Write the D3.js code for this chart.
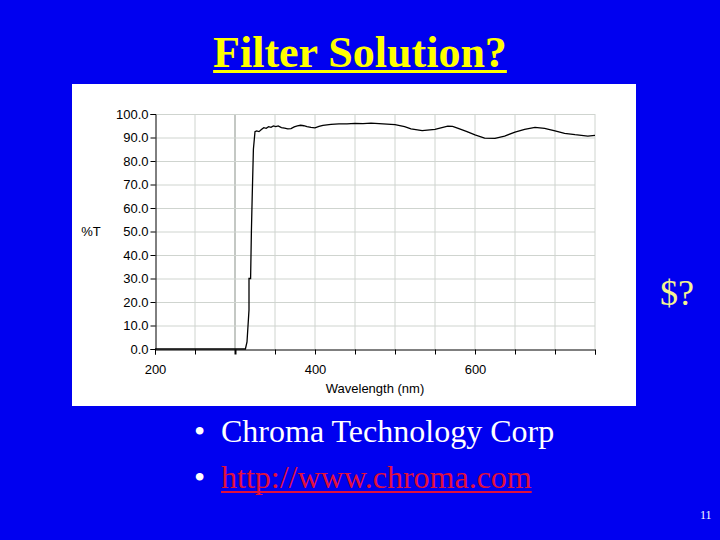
<!DOCTYPE html>
<html>
<head>
<meta charset="utf-8">
<title>Filter Solution?</title>
<script src="https://d3js.org/d3.v7.min.js"></script>
<style>
  body { margin: 0; background: #0000f0; }
  svg { display: block; }
</style>
</head>
<body>
<div id="chart"></div>
<script>
// transmission curve
var wavelength = [200, 313, 315, 317.5, 317.5, 319.5, 320.5, 321.5, 323, 325, 327, 330, 333, 336, 339, 342, 345, 348,
    351, 354, 358, 362, 366, 370, 374, 378, 382, 386, 390, 395, 400, 405, 410, 420, 430, 440, 450, 460, 470, 480, 490,
    500, 506, 512, 520, 534, 550, 566, 572, 579, 590, 600, 612, 625, 637, 650, 662, 675, 687, 700, 712, 725, 741, 750];
var transmission = [0, 0, 3, 16.6, 30, 30, 50, 64.8, 85, 92.5, 92.8, 92.5, 93.4, 94.2, 93.9, 94.6, 94.3, 94.9,
    94.6, 94.9, 94.2, 94.0, 93.7, 93.8, 94.5, 94.9, 95.2, 95.0, 94.6, 94.3, 94.1, 94.7, 95.2, 95.6, 95.8, 95.8, 96.0, 95.9, 96.1, 95.9, 95.7,
    95.5, 95.1, 94.6, 93.7, 92.9, 93.5, 94.8, 94.7, 93.9, 92.5, 91.1, 89.7, 89.6, 90.6, 92.3, 93.5, 94.3, 93.9, 92.8, 91.8, 91.2, 90.6, 90.9];
var xTicks = [200, 250, 300, 350, 400, 450, 500, 550, 600, 650, 700, 750];
var xLabels = [200, 400, 600];
var yTicks = [0, 10, 20, 30, 40, 50, 60, 70, 80, 90, 100];
var bullets = ["Chroma Technology Corp", "http://www.chroma.com"];

var svg = d3.select("#chart").append("svg")
    .attr("width", 720)
    .attr("height", 540);

svg.append("rect").attr("width", 720).attr("height", 540).attr("fill", "#0000f0");

// title
var title = svg.append("text")
    .attr("x", 360).attr("y", 67)
    .attr("text-anchor", "middle")
    .style("font-family", "'Liberation Serif', 'Times New Roman', serif")
    .style("font-weight", "bold")
    .style("font-size", "44px")
    .attr("fill", "#ffff00")
    .text("Filter Solution?");
var tw = title.node().getComputedTextLength();
svg.append("rect")
    .attr("x", 360 - tw / 2).attr("y", 70)
    .attr("width", tw).attr("height", 3)
    .attr("fill", "#ffff00");

// white chart panel
svg.append("rect")
    .attr("x", 72).attr("y", 84)
    .attr("width", 564).attr("height", 322)
    .attr("fill", "#ffffff");

var x = d3.scaleLinear().domain([200, 750]).range([155, 595]);
var y = d3.scaleLinear().domain([0, 100]).range([349, 114]);

// grid
svg.append("g").selectAll("line")
    .data(xTicks.slice(1))
    .enter().append("line")
    .attr("x1", function (d) { return x(d); }).attr("x2", function (d) { return x(d); })
    .attr("y1", y(0)).attr("y2", y(100))
    .attr("stroke", function (d) { return d == 300 ? "#c4c8c4" : "#cfd4cf"; })
    .attr("stroke-width", function (d) { return d == 300 ? 2 : 1; });
svg.append("g").selectAll("line")
    .data(yTicks.slice(1))
    .enter().append("line")
    .attr("x1", x(200)).attr("x2", x(750))
    .attr("y1", function (d) { return y(d) + 0.5; }).attr("y2", function (d) { return y(d) + 0.5; })
    .attr("stroke", "#cfd4cf");

var axisFont = "'Liberation Sans', Arial, sans-serif";

// axes
var gx = svg.append("g")
    .attr("transform", "translate(0," + (y(0) + 0.5) + ")")
    .call(d3.axisBottom(x).tickValues(xTicks).tickSize(5).tickPadding(10)
        .tickFormat(function (d) { return xLabels.indexOf(d) >= 0 ? d : ""; }));
gx.select(".domain").attr("stroke", "#000");
gx.selectAll(".tick line").attr("stroke", "#000")
    .attr("stroke-width", function (d) { return d == 300 ? 2 : 1; });
gx.selectAll("text").style("font-family", axisFont).style("font-size", "13px").attr("fill", "#000");

var gy = svg.append("g")
    .attr("transform", "translate(" + (x(200) + 0.5) + ",0)")
    .call(d3.axisLeft(y).tickValues(yTicks).tickSize(5).tickPadding(2).tickFormat(d3.format(".1f")));
gy.select(".domain").attr("stroke", "#000");
gy.selectAll(".tick line").attr("stroke", "#000");
gy.selectAll("text").style("font-family", axisFont).style("font-size", "13px").attr("fill", "#000");

svg.append("text")
    .attr("x", 91).attr("y", 236)
    .attr("text-anchor", "middle")
    .style("font-family", axisFont).style("font-size", "13px")
    .text("%T");
svg.append("text")
    .attr("x", 375).attr("y", 393)
    .attr("text-anchor", "middle")
    .style("font-family", axisFont).style("font-size", "13px")
    .text("Wavelength (nm)");

// curve
var line = d3.line()
    .x(function (d) { return x(d[0]); })
    .y(function (d) { return y(d[1]); });
svg.append("path")
    .datum(wavelength.map(function (w, i) { return [w, transmission[i]]; }))
    .attr("d", line)
    .attr("fill", "none")
    .attr("stroke", "#000")
    .attr("stroke-width", 1.3);

// bullets
var serif = "'Liberation Serif', 'Times New Roman', serif";
bullets.forEach(function (b, i) {
    var by = 442 + i * 46;
    var col = i == 0 ? "#ffffff" : "#e0103c";
    svg.append("text")
        .attr("x", 194).attr("y", by)
        .style("font-family", serif).style("font-size", "32px")
        .attr("fill", "#ffffff")
        .text("\u2022");
    var t = svg.append("text")
        .attr("x", 221).attr("y", by)
        .style("font-family", serif).style("font-size", "32px")
        .attr("fill", col)
        .text(b);
    if (i == 1) {
        svg.append("rect")
            .attr("x", 221).attr("y", by + 3)
            .attr("width", t.node().getComputedTextLength()).attr("height", 2)
            .attr("fill", col);
    }
});

svg.append("text")
    .attr("x", 660).attr("y", 305)
    .style("font-family", serif).style("font-size", "36px")
    .attr("fill", "#f4f490")
    .text("$?");

svg.append("text")
    .attr("x", 700).attr("y", 519)
    .style("font-family", serif).style("font-size", "12px")
    .attr("fill", "#ffffff")
    .text("11");
</script>
</body>
</html>
